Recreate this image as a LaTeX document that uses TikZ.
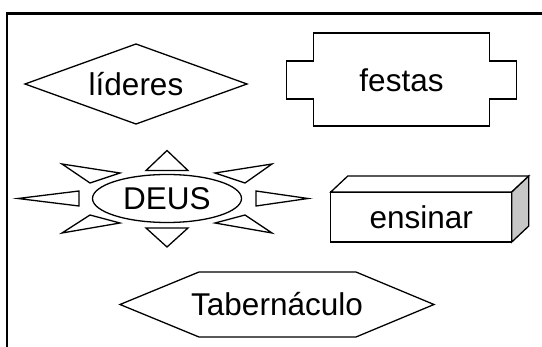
\documentclass[tikz,border=0pt]{standalone}
\usepackage{fontspec}
\setmainfont{Liberation Sans}
\usetikzlibrary{shapes.geometric}
\tikzset{
    mytext/.style = {font=\fontsize{31.5}{38}\selectfont, text=black, inner sep=0pt, outer sep=0pt},
    myline/.style = {draw=black, line width=1.3pt, line join=miter},
    myray/.style = {myline, fill=white},
    myside/.style = {myline, fill=black!22},
    myframe/.style = {draw=black, line width=2.2pt}
}
\begin{document}
\begin{tikzpicture}[x=1pt, y=-1pt]
  \useasboundingbox (0,0) rectangle (542,347);
  % frame
  \draw[myframe] (7,360) -- (7,13.5) -- (560,13.5);

  \node[mytext, diamond, myline, aspect=2.8, minimum width=222, minimum height=80] (lideres) at (136,84) {líderes};

  \node[mytext] (festas) at (401.5,80) {festas};
  \draw[myline] (festas.center) ++(-88,-47) -- ++(176,0) -- ++(0,28) -- ++(27,0) -- ++(0,38)
    -- ++(-27,0) -- ++(0,27) -- ++(-176,0) -- ++(0,-27) -- ++(-27,0) -- ++(0,-38) -- ++(27,0) -- cycle;

  \node[mytext, ellipse, myline, minimum width=149, minimum height=48] (deus) at (167,198.5) {DEUS};
  \begin{scope}[shift={(deus.center)}]
    \draw[myray] (0,-48) -- (-21,-28) -- (21,-28) -- cycle;
    \draw[myray] (0,48.5) -- (-21,29.5) -- (21,29.5) -- cycle;
    \draw[myray] (-149,0) -- (-88,-7.5) -- (-88,7.5) -- cycle;
    \draw[myray] (141,0) -- (89,-7.5) -- (89,7.5) -- cycle;
    \draw[myray] (-105,-34.5) -- (-47,-25.5) -- (-77,-15.5) -- cycle;
    \draw[myray] (-105,34.5) -- (-47,24.5) -- (-77,16.5) -- cycle;
    \draw[myray] (105,-34.5) -- (48,-25.5) -- (78,-15.5) -- cycle;
    \draw[myray] (105,34.5) -- (48,24.5) -- (78,16.5) -- cycle;
  \end{scope}

  \node[mytext, myline, fill=white, minimum width=181, minimum height=50] (ensinar) at (421.3,217) {ensinar};
  \draw[myline, fill=white] (ensinar.north west) -- ++(17,-16) -- ++(181,0) -- (ensinar.north east) -- cycle;
  \draw[myside] (ensinar.north east) -- ++(17,-16) -- ++(0,50) -- (ensinar.south east) -- cycle;

  \node[mytext] (tabernaculo) at (277,304.5) {Tabernáculo};
  \draw[myline] (tabernaculo.center) ++(-157,0) -- ++(79,-32.5) -- ++(157,0) -- ++(78,32.5)
    -- ++(-78,32.5) -- ++(-157,0) -- cycle;
\end{tikzpicture}
\end{document}
